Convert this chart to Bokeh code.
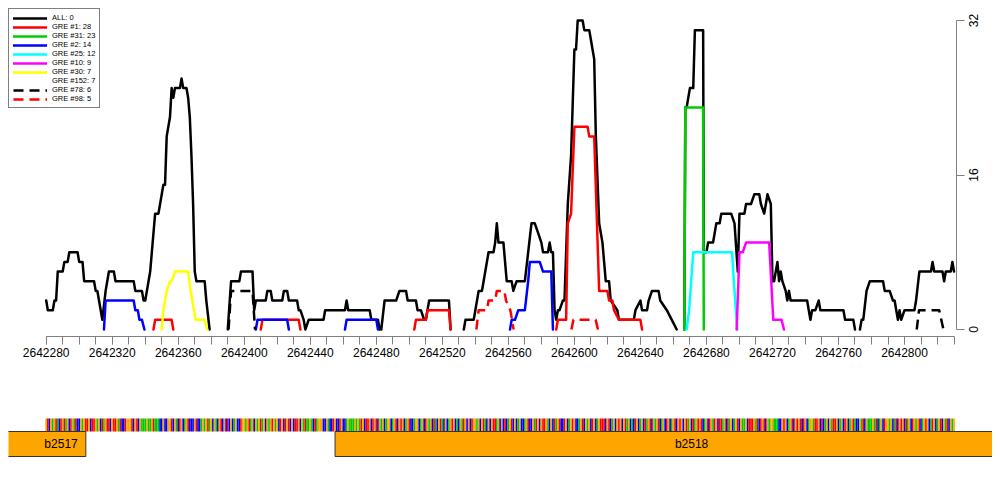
import math
from bokeh.plotting import figure
from bokeh.models import (Range1d, FixedTicker, BasicTickFormatter, Legend, LegendItem, LinearAxis)
from bokeh.core.properties import value
from bokeh.embed import file_html
from bokeh.resources import INLINE

NA = float("nan")
START = 2642280          # first base of the window
END = 2642830            # last base of the window

# ---- data: offsets (bp from START) and counts, NaN = gap ----
ALL_U = [0, 1, 4, 5, 6, 7, 10, 11, 13, 14, 19, 20, 22, 23, 29, 30, 31, 32, 34, 36, 38, 41, 42, 53, 54, 58, 59, 60,
         61, 62, 63, 64, 65, 66, 68, 69, 71, 72, 73, 75, 76, 77, 78, 81, 82, 83, 85, 86, 87, 88, 89, 90, 91, 96, 97, 99, NA,
         110, 112, 117, 118, 125, 126, 127, 133, 134, 136, 137, 143, 144, 146, 147, 152, 153, 154, 156, 157, 159, 168,
         169, 181, 182, 183, 196, 197, 201, 202, NA,
         203, 205, 212, 214, 218, 219, 224, 225, 227, 229, 230, 232, 244, 245, NA,
         253, 254, 259, 260, 262, 264, 265, 268, 271, 272, 273, 274, 277, 279, 282, 283, 285, 290, 292, 294,
         296, 298, 300, 301, 304, 305, 306, 307, 308, 309, 310, 311, 313, 314, 316, 318, 320, 321, 322, 325,
         326, 329, 330, 331, 332, 333, 335, 336, 337, 338, 339, 341, 342, 346, 347, 356, 357, 360, 361, 364,
         365, 367, 371, 372, 376, 379, 382, NA,
         386.6, 387.2, 388, 389, 390, 392, 393, 398, 398.4, 400, 401, 404, 405, 406, 408, 409, 415, 417, 419, 420,
         423, 424, 427, 429, 432, 433, 435, 436, 437, 439, 440, 441, 443, 444, 445, 446, 448, 449, 450, 451,
         461, 462, 463, 464, 466, 468, 469, 483, 484, 489, 490, NA,
         493, 494, 495, 497, 499, 507, 508, 511, 513, 514, 515, 516, 517, 518, 520, 526, 527, 529, 536, 537,
         538, 543, 544, 545, 548, 549, 550]
ALL_V = [3, 2, 2, 3, 3, 6, 6, 7, 7, 8, 8, 7, 7, 5, 5, 4, 4, 3, 1, 4, 6, 6, 5, 5, 4, 4, 3, 3,
         4, 5, 6, 8, 10, 12, 12, 13, 15, 15, 20, 22, 25, 24, 25, 25, 26, 25, 25, 24, 22, 18, 13, 6, 5, 5, 3, 0, NA,
         0, 5, 5, 6, 6, 2, 3, 3, 4, 4, 3, 3, 4, 4, 3, 3, 2, 2, 1, 0, 1, 1, 2, 2, 3, 2, 2, 1, 1, 0, NA,
         0, 3, 3, 4, 4, 3, 3, 2, 2, 1, 1, 3, 3, 0, NA,
         0, 1, 1, 2, 4, 4, 5, 8, 8, 9, 11, 9, 9, 5, 5, 4, 5, 5, 8, 11,
         11, 10, 9, 8, 8, 9, 8, 8, 2, 1, 2, 2, 3, 3, 13, 18, 29, 29, 32, 32,
         31, 31, 30, 29, 28, 20, 11, 10, 9, 7, 5, 5, 3, 2, 1, 1, 2, 3, 2, 2,
         3, 4, 4, 3, 2, 1, 0, NA,
         0, 23, 23, 24, 25, 25, 31, 31, 8, 8, 9, 9, 10, 11, 11, 12, 12, 11, 6, 12,
         12, 13, 13, 14, 14, 13, 12, 13, 14, 13, 5, 5, 7, 5, 6, 5, 4, 3, 4, 3,
         3, 2, 1, 2, 2, 3, 2, 2, 1, 1, 0, NA,
         0, 1, 1, 4, 5, 5, 4, 4, 3, 3, 2, 1, 2, 1, 2, 2, 3, 6, 6, 7,
         6, 6, 5, 6, 6, 7, 6]

GRE1_U = [65, 66, 76, 77, NA, 130, 131, 153, 154, NA, 223, 224, 230, 231, 244, 245, NA,
          309, 310, 315, 316, 318, 320, 328, 329, 332, 335, 340, 341, 343, 344, 347, 360, 361]
GRE1_V = [0, 1, 1, 0, NA, 0, 1, 1, 0, NA, 0, 1, 1, 2, 2, 0, NA,
          0, 1, 1, 11, 12, 21, 21, 20, 20, 4, 4, 3, 3, 2, 1, 1, 0]

GRE31_U = [386.6, 387.2, 398, 398.4]
GRE31_V = [0, 23, 23, 0]

GRE2_U = [35, 36, 53, 54, 55.5, 56.5, 58, 59.5, NA, 127, 128, 146, 147, NA, 181, 182, 200, 201, NA,
          281, 282, 284, 286, 290, 292, 293, 299, 301, 306, 307]
GRE2_V = [0, 3, 3, 2, 2, 1, 1, 0, NA, 0, 1, 1, 0, NA, 0, 1, 1, 0, NA,
          0, 1, 1, 2, 2, 5, 7, 7, 6, 6, 0]

GRE25_U = [388, 389.5, 392, 415.5, 417, 418.7]
GRE25_V = [0, 2, 8, 8, 4, 0]

GRE10_U = [418.3, 420, 422, 424, 438, 440.5, 445.5, 447]
GRE10_V = [0, 8, 8, 9, 9, 1, 1, 0]

GRE30_U = [70, 71, 73, 75, 76, 78, 86, 87.5, 88.5, 89.5, 90.5, 96, 97.5]
GRE30_V = [0, 2, 4, 5, 5, 6, 6, 4, 3, 2, 1, 1, 0]

GRE152_U = []
GRE152_V = []

GRE78_U = [110.5, 112, 125, 126.5, NA, 527.4, 528.8, 541, 543.6]
GRE78_V = [0, 4, 4, 0, NA, 0, 2, 2, 0]

GRE98_U = [260.6, 262, 267, 268, 272, 273, 277.6, 278.6, 281.2, 283.2, NA, 318.2, 319.4, 332.9, 334.3]
GRE98_V = [0, 2, 2, 3, 3, 4, 4, 3, 2, 0, NA, 0, 1, 1, 0]

LEGEND_LABELS = ["ALL: 0", "GRE #1: 28", "GRE #31: 23", "GRE #2: 14", "GRE #25: 12",
                 "GRE #10: 9", "GRE #30: 7", "GRE #152: 7", "GRE #78: 6", "GRE #98: 5"]

X_TICKS = [2642280, 2642320, 2642360, 2642400, 2642440, 2642480, 2642520,
           2642560, 2642600, 2642640, 2642680, 2642720, 2642760, 2642800]
Y_TICKS = [0, 16, 32]

SEQ = ("GTCGAGTACT" "GTAGCTGATC" "CGAGTTGCTT" "GAGCTAGTTC" "GTTGATCCTG" "GGTCGTCGAA" "AGAAGTAAAC"
       "CGCCGGTCGA" "CTGCAGTCCC" "GTCCAGAGTA" "GCGACGTCGC" "TCGCAGCCTG" "GAGTAGCGAG" "TAGCGAGT"
       "GAGCTGCTGT" "CGCTTGCGAT" "AAGACTAGGG" "CCGACCTGCC" "TGCCAGAAAG" "AGATGCTTGC" "TGTCGAGCAG"
       "GCAGTCGTGC" "AGTCCAGGCA" "GCTGAGCTAC" "GTACGCAGTG" "CACGATGCGC" "TGGAGCGTAC" "GCGTTAGC"
       "GCTCAGTCGC" "AGCCAGTCCG" "ATGCGTTGAC" "GCTAGTCCTG" "CAGTGCCAGT" "CGAGCTGCAG" "TTTCGTCAGC"
       "GTGCGTAGCA" "CTGCAGCTAG" "TCGAGTCAGC" "TGCAGTCGTG" "CGTAGCTAGT" "GTCAGCTGAT" "GCTTAGCT"
       "AGCAGTCGAA" "GCTTTGATCT" "GTCGAGGAAA" "CCGTGCAGTC" "GTGTCTGCAG" "GATTGCTCAG" "CGATTGCAGC"
       "TGCAGTACCG" "ATCGAAAGAT" "CAGCTGGAGC" "ATCGTGCTAG" "CTGAGTCAGT" "GCATGCAGTC" "GATCGAG")
BASE_COLORS = {"A": "#00C800", "C": "#0000FF", "G": "#FFA500", "T": "#FF0000"}

GENE_NAMES = ["b2517", "b2518"]
GENE_STARTS = [2641500, 2642455]
GENE_ENDS = [2642304, 2643600]
GENE_LABEL_X = [2642289, 2642671]

# ---- layout constants ----
PX_PER_BP = 1.6506
PX_PER_COUNT = 9.656
FONT = "Liberation Sans"
PAD = 8
FRAME_W, FRAME_H = 948, 328
x0 = START - 37.7 / PX_PER_BP
y0 = -7.0 / PX_PER_COUNT


def xs(us):
    return [START + u if u == u else NA for u in us]


p = figure(width=PAD + FRAME_W + 36, height=PAD + FRAME_H + 40, output_backend="svg", toolbar_location=None,
           x_range=Range1d(x0, x0 + FRAME_W / PX_PER_BP),
           y_range=Range1d(y0, y0 + FRAME_H / PX_PER_COUNT),
           y_axis_location="right",
           min_border_left=PAD, min_border_top=PAD, min_border_right=36, min_border_bottom=40)
p.outline_line_color = None
p.xgrid.visible = False
p.ygrid.visible = False
p.background_fill_color = "white"
p.border_fill_color = "white"

series = [
    (ALL_U, ALL_V, "#000000", None),
    (GRE1_U, GRE1_V, "#FF0000", None),
    (GRE31_U, GRE31_V, "#00CD00", None),
    (GRE2_U, GRE2_V, "#0000FF", None),
    (GRE25_U, GRE25_V, "#00FFFF", None),
    (GRE10_U, GRE10_V, "#FF00FF", None),
    (GRE30_U, GRE30_V, "#FFFF00", None),
    (GRE152_U, GRE152_V, "#BEBEBE", None),
    (GRE78_U, GRE78_V, "#000000", "10 6"),
    (GRE98_U, GRE98_V, "#FF0000", "10 6"),
]
items = []
for (u, v, col, dash), lab in zip(series, LEGEND_LABELS):
    kw = dict(line_color=col, line_width=2.5, line_join="round")
    if dash:
        kw["line_dash"] = dash
    else:
        kw["line_cap"] = "round"
    r = p.line(xs(u), list(v), **kw)
    items.append(LegendItem(label=lab, renderers=[r]))

legend = Legend(items=items, location="top_left", margin=0, padding=4, spacing=0,
                glyph_width=34, glyph_height=8, label_height=8, label_standoff=5,
                label_text_font=FONT, label_text_font_size="7.5px", label_text_color="black",
                border_line_color="black", border_line_width=1,
                background_fill_color="white", background_fill_alpha=1)
p.add_layout(legend)

xa = p.xaxis[0]
xa.ticker = FixedTicker(ticks=X_TICKS, minor_ticks=list(range(START, END + 1, 10)))
xa.formatter = BasicTickFormatter(use_scientific=False)
xa.bounds = (START, END)
xa.axis_line_color = "#808080"
xa.major_tick_line_color = "#808080"
xa.minor_tick_line_color = "#808080"
xa.major_tick_in = 0
xa.major_tick_out = 8
xa.minor_tick_in = 0
xa.minor_tick_out = 8
xa.major_label_text_font = FONT
xa.major_label_text_font_size = "12px"
xa.major_label_text_color = "black"
xa.major_label_standoff = 3

# right axis: line and ticks only
ya = p.yaxis[0]
ya.ticker = FixedTicker(ticks=Y_TICKS)
ya.bounds = (0, 32)
ya.axis_line_color = "#808080"
ya.major_tick_line_color = "#808080"
ya.minor_tick_line_color = None
ya.major_tick_in = 0
ya.major_tick_out = 8
ya.major_label_text_font_size = "0px"
ya.major_label_text_alpha = 0
ya.major_label_standoff = 0

# second right axis carries the labels: rotated text starts at its tick, so the tick is
# moved down by half the label length to centre each label on the real tick
CHAR_PX = 6.67
label_pos = [t - len(str(t)) * CHAR_PX / 2 / PX_PER_COUNT for t in Y_TICKS]
ya2 = LinearAxis(ticker=FixedTicker(ticks=label_pos),
                 major_label_overrides={lp: str(t) for lp, t in zip(label_pos, Y_TICKS)},
                 axis_line_color=None, major_tick_line_color=None, minor_tick_line_color=None,
                 major_tick_in=0, major_tick_out=0, major_label_standoff=9,
                 major_label_orientation=math.pi / 2,
                 major_label_text_font=FONT, major_label_text_font_size="12px",
                 major_label_text_color="black")
p.add_layout(ya2, "right")

# ---- sequence + gene track (separate root, so its frame is not aligned to the plot above) ----
TRACK_W = 984
p2 = figure(width=PAD + TRACK_W, height=100, output_backend="svg", toolbar_location=None,
            x_range=Range1d(x0, x0 + TRACK_W / PX_PER_BP), y_range=Range1d(0, 100),
            x_axis_type=None, y_axis_type=None,
            min_border_left=PAD, min_border_right=0, min_border_top=0, min_border_bottom=0)
p2.outline_line_color = None
p2.xgrid.visible = False
p2.ygrid.visible = False

pos = [START + i for i in range(len(SEQ))]
p2.quad(left=[q - 0.5 for q in pos], right=[q + 0.5 for q in pos], bottom=45, top=58,
        fill_color=[BASE_COLORS[b] for b in SEQ], line_color=None)
p2.quad(left=GENE_STARTS, right=GENE_ENDS, bottom=20, top=45,
        fill_color="#FFA500", line_color="#333333", line_width=1)
p2.text(x=GENE_LABEL_X, y=[32.5] * len(GENE_NAMES), text=GENE_NAMES,
        text_align="center", text_baseline="middle",
        text_font=value(FONT), text_font_size="12px", text_color="black")

open("out.html", "w").write(file_html([p, p2], INLINE))
